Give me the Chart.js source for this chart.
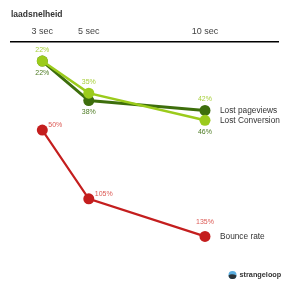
<!DOCTYPE html>
<html>
<head>
<meta charset="utf-8">
<script src="https://cdn.jsdelivr.net/npm/chart.js@4.4.1/dist/chart.umd.min.js"></script>
<style>
  html, body { margin: 0; padding: 0; background: #ffffff; }
  #wrap { width: 289px; height: 293px; position: relative; }
</style>
</head>
<body>
<div id="wrap"><canvas id="c" width="289" height="293"></canvas></div>
<script>
// ---- data ----
const chartTitle = 'laadsnelheid';
const loadSeconds = [3, 5, 10];
const tickLabels = ['3 sec', '5 sec', '10 sec'];
const lostPageviews = [22, 38, 42];
const lostConversion = [22, 35, 46];
const bounceRate = [50, 105, 135];
const seriesNames = ['Lost pageviews', 'Lost Conversion', 'Bounce rate'];
const brandText = 'strangeloop';

// ---- styles ----
const DARK = '#3d6e0c';
const LIGHT = '#9bcb1c';
const RED = '#c41e1e';
const LIGHT_LBL = '#a8d03c';
const DARK_LBL = '#4c7a22';
const RED_LBL = '#dc5a55';
const FONT = "'Liberation Sans', Arial, sans-serif";

const toPoints = (vals) => vals.map((v, i) => ({ x: loadSeconds[i], y: v }));

const labelsPlugin = {
  id: 'labelsPlugin',
  afterDatasetsDraw(chart) {
    const ctx = chart.ctx;
    const mDark = chart.getDatasetMeta(0);
    const mLight = chart.getDatasetMeta(1);
    const mRed = chart.getDatasetMeta(2);
    ctx.save();
    ctx.font = '7px ' + FONT;
    ctx.textBaseline = 'middle';
    // green value labels: upper point labelled above (light), lower labelled below (dark)
    loadSeconds.forEach((s, i) => {
      const pd = mDark.data[i], pl = mLight.data[i];
      let upper, upperVal, lower, lowerVal;
      if (pl.y <= pd.y) { upper = pl; upperVal = lostConversion[i]; lower = pd; lowerVal = lostPageviews[i]; }
      else { upper = pd; upperVal = lostPageviews[i]; lower = pl; lowerVal = lostConversion[i]; }
      ctx.textAlign = 'center';
      ctx.fillStyle = LIGHT_LBL;
      ctx.fillText(upperVal + '%', upper.x, upper.y - 11);
      ctx.fillStyle = DARK_LBL;
      ctx.fillText(lowerVal + '%', lower.x, lower.y + 12);
    });
    // red value labels
    ctx.fillStyle = RED_LBL;
    mRed.data.forEach((p, i) => {
      if (i === mRed.data.length - 1) {
        ctx.textAlign = 'center';
        ctx.fillText(bounceRate[i] + '%', p.x, p.y - 14);
      } else {
        ctx.textAlign = 'left';
        ctx.fillText(bounceRate[i] + '%', p.x + 6, p.y - 5);
      }
    });
    // series names next to last point
    ctx.font = '8.3px ' + FONT;
    ctx.fillStyle = '#333333';
    ctx.textAlign = 'left';
    [mDark, mLight, mRed].forEach((m, k) => {
      const p = m.data[m.data.length - 1];
      ctx.fillText(chart.data.datasets[k].label, p.x + 15, p.y);
    });
    // brand mark
    const bx = 232.5, by = 275;
    ctx.beginPath();
    ctx.arc(bx, by, 4, 0, Math.PI * 2);
    ctx.fillStyle = '#5aaee0';
    ctx.fill();
    ctx.beginPath();
    ctx.moveTo(bx - 4, by + 0.5);
    ctx.quadraticCurveTo(bx - 1, by - 2, bx + 4, by + 0.5);
    ctx.arc(bx, by, 4, 0.12, Math.PI - 0.12);
    ctx.closePath();
    ctx.fillStyle = '#2c3438';
    ctx.fill();
    ctx.font = '600 7.3px ' + FONT;
    ctx.fillStyle = '#333333';
    ctx.textAlign = 'left';
    ctx.fillText(brandText, 239.5, by);
    ctx.restore();
  }
};

new Chart(document.getElementById('c'), {
  type: 'line',
  data: {
    datasets: [
      { label: seriesNames[0], data: toPoints(lostPageviews), yAxisID: 'y', borderColor: DARK, backgroundColor: DARK,
        borderWidth: 3, pointRadius: 5.5, pointBorderWidth: 0, pointBackgroundColor: DARK, order: 1, clip: false },
      { label: seriesNames[1], data: toPoints(lostConversion), yAxisID: 'y', borderColor: LIGHT, backgroundColor: LIGHT,
        borderWidth: 2.5, pointRadius: 5.5, pointBorderWidth: 0, pointBackgroundColor: LIGHT, order: 0, clip: false },
      { label: seriesNames[2], data: toPoints(bounceRate), yAxisID: 'y2', borderColor: RED, backgroundColor: RED,
        borderWidth: 2.2, pointRadius: 5.5, pointBorderWidth: 0, pointBackgroundColor: RED, order: 2, clip: false }
    ]
  },
  options: {
    responsive: false,
    animation: false,
    devicePixelRatio: 1,
    layout: { autoPadding: false, padding: { left: 11, right: 11, top: 0, bottom: 0 } },
    plugins: {
      legend: { display: false },
      tooltip: { enabled: false },
      title: {
        display: true, text: chartTitle, align: 'start', color: '#333333',
        font: { family: FONT, size: 8.5, weight: 'bold' },
        padding: { top: 9.5, bottom: 4.3 }
      }
    },
    scales: {
      x: {
        type: 'linear', position: 'top', min: 1.653, max: 13.142,
        grid: { display: false, drawTicks: false },
        border: { display: true, color: '#000000', width: 1.5 },
        afterBuildTicks: (s) => { s.ticks = loadSeconds.map(v => ({ value: v })); },
        afterFit: (s) => { s.height = 18; },
        ticks: {
          padding: 5, autoSkip: false, maxRotation: 0, color: '#444444',
          font: { family: FONT, size: 9 },
          callback: (v) => tickLabels[loadSeconds.indexOf(v)]
        }
      },
      y: { display: false, reverse: true, min: 14.28, max: 115.98 },
      y2: { display: false, reverse: true, min: -20.35, max: 180.23 }
    }
  },
  plugins: [labelsPlugin]
});
</script>
</body>
</html>
